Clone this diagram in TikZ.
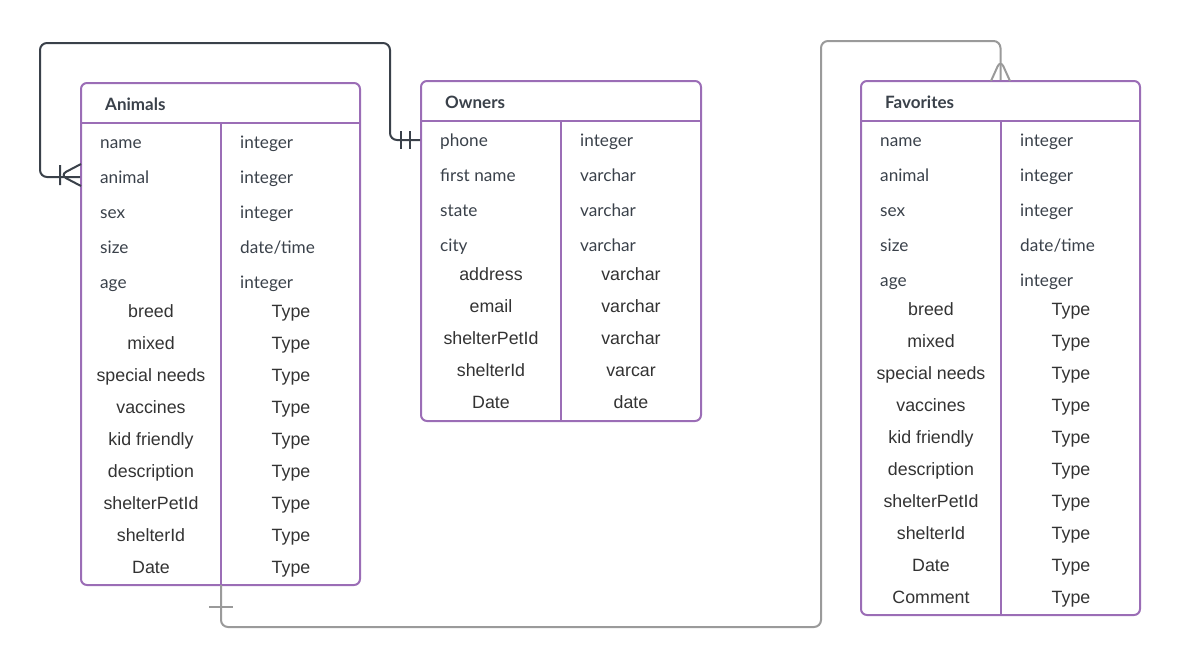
\documentclass[tikz,border=0pt]{standalone}
\usepackage{fontspec}
\setmainfont{Liberation Sans}
\newfontfamily\latofont{Lato}
\definecolor{tblpurple}{HTML}{9B6DB6}
\definecolor{inkdark}{HTML}{3A414A}
\definecolor{linkgray}{HTML}{9A9A9A}
\definecolor{celltext}{HTML}{333333}
\begin{document}
\begin{tikzpicture}[x=1pt,y=-1pt,
  tbl/.style={draw=tblpurple, line width=2pt, rounded corners=6pt, inner sep=0pt},
  tline/.style={draw=tblpurple, line width=2pt},
  hdr/.style={font=\latofont\bfseries\fontsize{17}{19}\selectfont, text=inkdark, anchor=west, inner sep=0pt, text height=14pt, text depth=2pt},
  fld/.style={font=\latofont\fontsize{17.2}{19}\selectfont, text=inkdark, anchor=west, inner sep=0pt, text height=15pt, text depth=2pt},
  cel/.style={font=\fontsize{17.8}{20}\selectfont, text=celltext, inner sep=0pt, text height=15pt, text depth=2pt},
  darklink/.style={draw=inkdark, line width=2pt, rounded corners=7pt},
  graylink/.style={draw=linkgray, line width=2pt, rounded corners=7pt}]
\useasboundingbox (0,0) rectangle (1181,667);

% tables
\node[tbl, minimum width=279pt, minimum height=502pt] (animals) at (220.5,334) {};
\node[tbl, minimum width=280pt, minimum height=340pt] (owners) at (561,251) {};
\node[tbl, minimum width=279pt, minimum height=534pt] (favs) at (1000.5,348) {};
\draw[tline] (81,123) -- (360,123) (221,123) -- (221,585);
\draw[tline] (421,121) -- (701,121) (561,121) -- (561,421);
\draw[tline] (861,121) -- (1140,121) (1001,121) -- (1001,615);
\node[hdr] (animalshd) at (105,104) {Animals};
\node[hdr] (ownershd) at (445,102) {Owners};
\node[hdr] (favshd) at (885,102) {Favorites};

% Animals
\foreach \n/\t [count=\i] in {name/integer, animal/integer, sex/integer, size/{date/time}, age/integer}{
  \node[fld] (an\i) at (100,107+35*\i) {\n};
  \node[fld] (at\i) at (240,107+35*\i) {\t};
}
\foreach \n [count=\i] in {breed, mixed, special needs, vaccines, kid friendly, description, shelterPetId, shelterId, Date}{
  \node[cel] (ab\i) at (151,279+32*\i) {\n};
  \node[cel] (ac\i) at (291,279+32*\i) {Type};
}

% Owners
\foreach \n/\t [count=\i] in {phone/integer, first name/varchar, state/varchar, city/varchar}{
  \node[fld] (on\i) at (440,105+35*\i) {\n};
  \node[fld] (ot\i) at (580,105+35*\i) {\t};
}
\foreach \n/\t [count=\i] in {address/varchar, email/varchar, shelterPetId/varchar, shelterId/varcar, Date/date}{
  \node[cel] (ob\i) at (491,242+32*\i) {\n};
  \node[cel] (oc\i) at (631,242+32*\i) {\t};
}

% Favorites
\foreach \n/\t [count=\i] in {name/integer, animal/integer, sex/integer, size/{date/time}, age/integer}{
  \node[fld] (fn\i) at (880,105+35*\i) {\n};
  \node[fld] (ft\i) at (1020,105+35*\i) {\t};
}
\foreach \n [count=\i] in {breed, mixed, special needs, vaccines, kid friendly, description, shelterPetId, shelterId, Date, Comment}{
  \node[cel] (fb\i) at (931,277+32*\i) {\n};
  \node[cel] (fc\i) at (1071,277+32*\i) {Type};
}

% Owners -> Animals
\coordinate (darkright) at (390,43);
\coordinate (darkleft) at (40,43);
\draw[darklink] (owners.west |- on1) -| (darkright) -- (darkleft) |- (animals.west |- an2);
\draw[darklink] (401,131) -- (401,149) (410,131) -- (410,149);
\draw[darklink] (60,165) -- (60,185) (81,164) -- (60,175) -- (81,186);

% Animals -> Favorites
\coordinate (grayturn) at (821,627);
\coordinate (grayup) at (821,41);
\draw[graylink] (221,585) |- (grayturn) -- (grayup) -| (favs.north);
\draw[graylink] (209,607) -- (233,607);
\draw[graylink] (991,81) -- (1000.5,60) -- (1010,81);
\end{tikzpicture}
\end{document}
